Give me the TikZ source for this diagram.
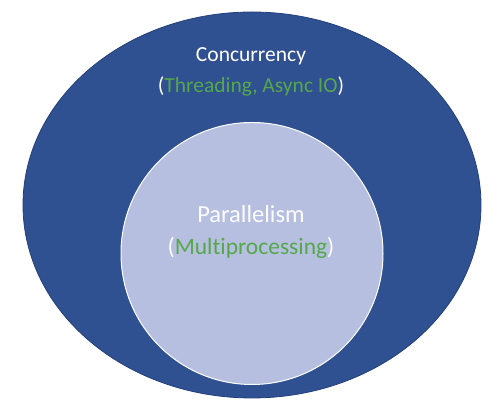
\documentclass[tikz,border=0pt]{standalone}
\usepackage{fontspec}
\setmainfont{Carlito}[Ligatures={NoCommon,NoRequired,NoContextual}]
\usetikzlibrary{shapes.geometric}
\definecolor{outerblue}{HTML}{2F5091}
\definecolor{outeredge}{HTML}{24407A}
\definecolor{innerfill}{HTML}{B6BFE0}
\definecolor{tgreen}{HTML}{55A84A}
\begin{document}
\begin{tikzpicture}[x=1pt,y=1pt,
  lbl/.style={anchor=base, inner sep=0pt, text=white}]
\useasboundingbox (0,0) rectangle (504,411);
\fill[white] (0,0) rectangle (504,411);
\node[ellipse, draw=outeredge, line width=0.8pt, fill=outerblue, minimum width=458, minimum height=386, inner sep=0pt] (outer) at (252,206) {};
\node[circle, draw=white, line width=1pt, fill=innerfill, minimum size=262, inner sep=0pt] (inner) at (252,157.5) {};
\node[lbl, font=\fontsize{21.5}{24}\selectfont] (conc) at (251,349) {Concurrency};
\node[lbl, font=\fontsize{21.5}{24}\selectfont] (thr) at (251,318) {(\textcolor{tgreen}{Threading, Async IO})};
\node[lbl, font=\fontsize{24.5}{28}\selectfont, text=white!95!innerfill] (par) at (251,188) {Parallelism};
\node[lbl, font=\fontsize{23.5}{27}\selectfont] (mp) at (251,156) {(\textcolor{tgreen}{Multiprocessing})};
\end{tikzpicture}
\end{document}
